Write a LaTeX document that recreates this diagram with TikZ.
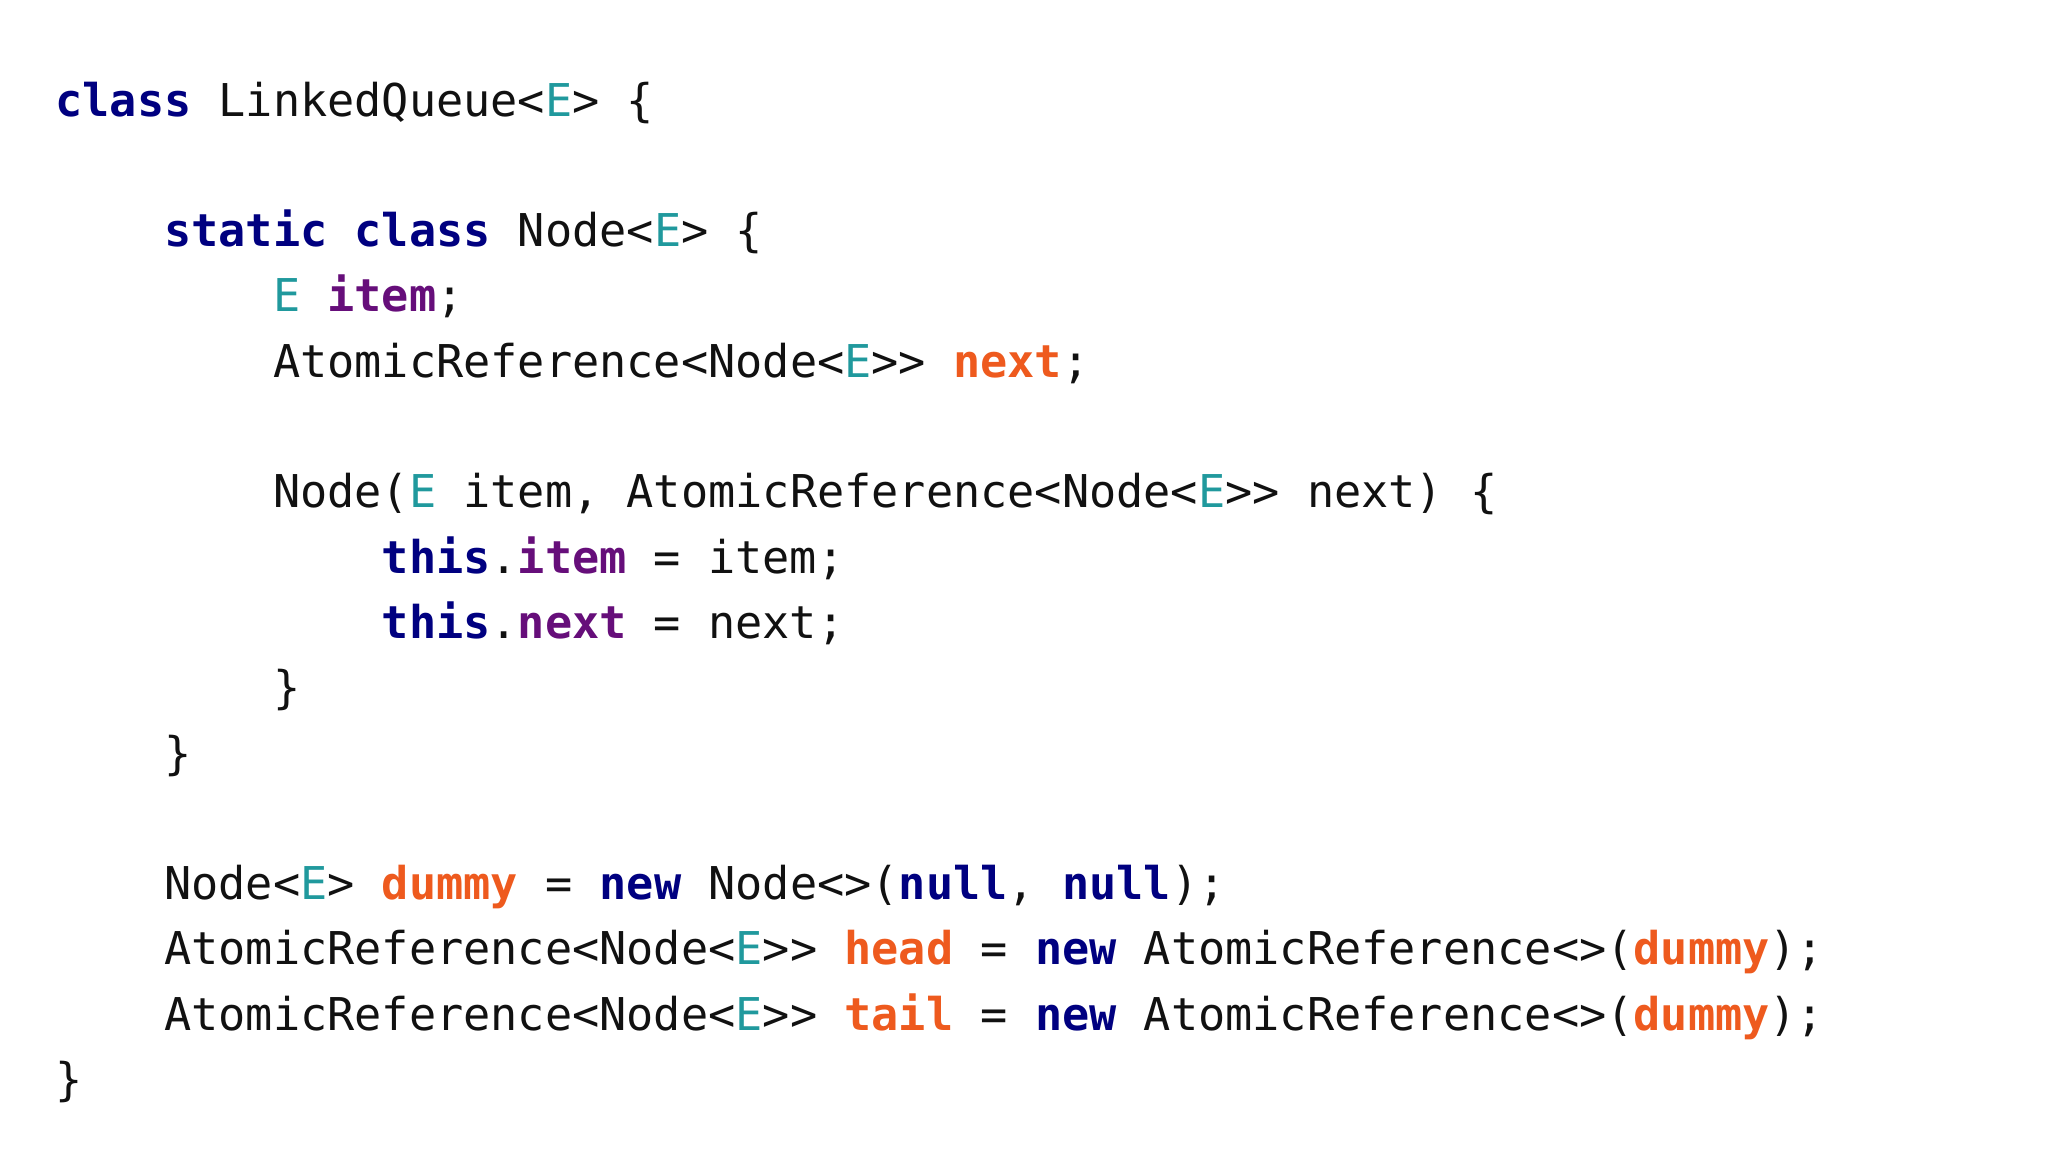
\documentclass[tikz,border=0pt]{standalone}
\usepackage{fontspec}
\setmonofont{DejaVu Sans Mono}
\definecolor{kwc}{HTML}{000080}
\definecolor{tyc}{HTML}{20999D}
\definecolor{flc}{HTML}{660E7A}
\definecolor{orc}{HTML}{EE5A1E}
\definecolor{txc}{HTML}{111111}
\newcommand{\ckw}[1]{\textcolor{kwc}{\bfseries #1}}
\newcommand{\cty}[1]{\textcolor{tyc}{#1}}
\newcommand{\cfl}[1]{\textcolor{flc}{\bfseries #1}}
\newcommand{\cor}[1]{\textcolor{orc}{\bfseries #1}}
\begin{document}
\begin{tikzpicture}[x=1pt,y=1pt,
  codeline/.style={anchor=base west,inner sep=0pt,font=\fontsize{22.6}{26}\ttfamily,text=txc}]
\useasboundingbox[fill=white] (0,0) rectangle (1024,-576);
\def\cw{13.6}
\def\ly#1{-58-32.65*#1}
\node[codeline] (l0) at (27.5+0*\cw, {\ly{0}}) {\ckw{class} LinkedQueue<\cty{E}> \{};
\node[codeline] (l1) at (27.5+4*\cw, {\ly{2}}) {\ckw{static} \ckw{class} Node<\cty{E}> \{};
\node[codeline] (l2) at (27.5+8*\cw, {\ly{3}}) {\cty{E} \cfl{item};};
\node[codeline] (l3) at (27.5+8*\cw, {\ly{4}}) {AtomicReference<Node<\cty{E}>{}> \cor{next};};
\node[codeline] (l4) at (27.5+8*\cw, {\ly{6}}) {Node(\cty{E} item, AtomicReference<Node<\cty{E}>{}> next) \{};
\node[codeline] (l5) at (27.5+12*\cw, {\ly{7}}) {\ckw{this}.\cfl{item} = item;};
\node[codeline] (l6) at (27.5+12*\cw, {\ly{8}}) {\ckw{this}.\cfl{next} = next;};
\node[codeline] (l7) at (27.5+8*\cw, {\ly{9}}) {\}};
\node[codeline] (l8) at (27.5+4*\cw, {\ly{10}}) {\}};
\node[codeline] (l9) at (27.5+4*\cw, {\ly{12}}) {Node<\cty{E}> \cor{dummy} = \ckw{new} Node<>(\ckw{null}, \ckw{null});};
\node[codeline] (l10) at (27.5+4*\cw, {\ly{13}}) {AtomicReference<Node<\cty{E}>{}> \cor{head} = \ckw{new} AtomicReference<>(\cor{dummy});};
\node[codeline] (l11) at (27.5+4*\cw, {\ly{14}}) {AtomicReference<Node<\cty{E}>{}> \cor{tail} = \ckw{new} AtomicReference<>(\cor{dummy});};
\node[codeline] (l12) at (27.5+0*\cw, {\ly{15}}) {\}};
\end{tikzpicture}
\end{document}
